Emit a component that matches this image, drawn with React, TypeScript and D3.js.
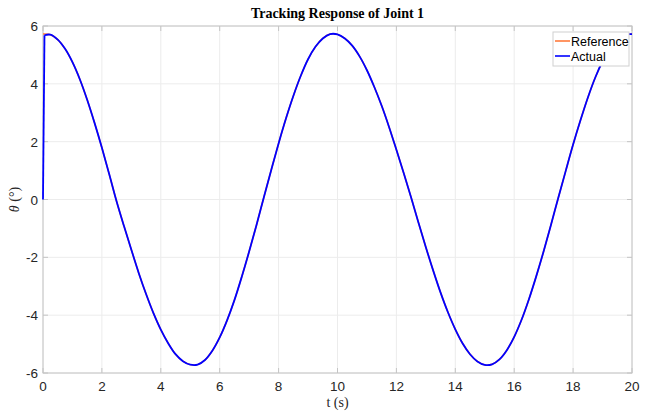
import React from "react";
import * as d3 from "d3";

const timeRef: number[] = [
  0, 0.25, 0.5, 0.75, 1, 1.25, 1.5, 1.75, 2, 2.25, 2.5, 2.75, 3, 3.25, 3.5, 3.75, 4, 4.25, 4.5, 4.75,
  5, 5.25, 5.5, 5.75, 6, 6.25, 6.5, 6.75, 7, 7.25, 7.5, 7.75, 8, 8.25, 8.5, 8.75, 9, 9.25, 9.5, 9.75,
  10, 10.25, 10.5, 10.75, 11, 11.25, 11.5, 11.75, 12, 12.25, 12.5, 12.75, 13, 13.25, 13.5, 13.75, 14, 14.25, 14.5, 14.75,
  15, 15.25, 15.5, 15.75, 16, 16.25, 16.5, 16.75, 17, 17.25, 17.5, 17.75, 18, 18.25, 18.5, 18.75, 19, 19.25, 19.5, 19.75, 20,
];
const reference: number[] = [
  5.72, 5.7, 5.53, 5.21, 4.75, 4.16, 3.45, 2.65, 1.79, 0.87, -0.07, -0.92, -1.74, -2.54, -3.27, -3.93, -4.5, -4.97, -5.35, -5.59,
  -5.71, -5.71, -5.55, -5.23, -4.77, -4.18, -3.48, -2.67, -1.8, -0.88, 0.08, 1.02, 1.94, 2.8, 3.58, 4.27, 4.85, 5.28, 5.57, 5.72,
  5.71, 5.57, 5.32, 4.95, 4.47, 3.89, 3.24, 2.51, 1.72, 0.91, 0.07, -0.8, -1.65, -2.46, -3.22, -3.9, -4.49, -4.98, -5.35, -5.6,
  -5.72, -5.7, -5.53, -5.21, -4.75, -4.16, -3.45, -2.65, -1.79, -0.87, 0.07, 0.99, 1.9, 2.74, 3.52, 4.21, 4.78, 5.23, 5.54, 5.7, 5.72,
];
const timeAct: number[] = [
  0, 0.05, 0.25, 0.5, 0.75, 1, 1.25, 1.5, 1.75, 2, 2.25, 2.5, 2.75, 3, 3.25, 3.5, 3.75, 4, 4.25, 4.5, 4.75,
  5, 5.25, 5.5, 5.75, 6, 6.25, 6.5, 6.75, 7, 7.25, 7.5, 7.75, 8, 8.25, 8.5, 8.75, 9, 9.25, 9.5, 9.75,
  10, 10.25, 10.5, 10.75, 11, 11.25, 11.5, 11.75, 12, 12.25, 12.5, 12.75, 13, 13.25, 13.5, 13.75, 14, 14.25, 14.5, 14.75,
  15, 15.25, 15.5, 15.75, 16, 16.25, 16.5, 16.75, 17, 17.25, 17.5, 17.75, 18, 18.25, 18.5, 18.75, 19, 19.25, 19.5, 19.75, 20,
];
const actual: number[] = [
  0.0, 5.68, 5.7, 5.53, 5.21, 4.75, 4.16, 3.45, 2.65, 1.79, 0.87, -0.07, -0.92, -1.74, -2.54, -3.27, -3.93, -4.5, -4.97, -5.35, -5.59,
  -5.71, -5.71, -5.55, -5.23, -4.77, -4.18, -3.48, -2.67, -1.8, -0.88, 0.08, 1.02, 1.94, 2.8, 3.58, 4.27, 4.85, 5.28, 5.57, 5.72,
  5.71, 5.57, 5.32, 4.95, 4.47, 3.89, 3.24, 2.51, 1.72, 0.91, 0.07, -0.8, -1.65, -2.46, -3.22, -3.9, -4.49, -4.98, -5.35, -5.6,
  -5.72, -5.7, -5.53, -5.21, -4.75, -4.16, -3.45, -2.65, -1.79, -0.87, 0.07, 0.99, 1.9, 2.74, 3.52, 4.21, 4.78, 5.23, 5.54, 5.7, 5.72,
];
const xTicks: number[] = [0, 2, 4, 6, 8, 10, 12, 14, 16, 18, 20];
const yTicks: number[] = [-6, -4, -2, 0, 2, 4, 6];
const seriesNames: string[] = ["Reference", "Actual"];

const W = 650;
const H = 412;
const M = { left: 43, right: 18, top: 26, bottom: 39 };
const REF_COLOR = "#ff7a3c";
const ACT_COLOR = "#0000ff";
const AX_COLOR = "#c4c4c4";
const TXT = "#262626";
const SANS = "'Liberation Sans', Arial, Helvetica, sans-serif";
const SERIF = "'Liberation Serif', 'Times New Roman', serif";

export default function App() {
  const x = d3.scaleLinear().domain([0, 20]).range([M.left, W - M.right]);
  const y = d3.scaleLinear().domain([-6, 6]).range([H - M.bottom, M.top]);
  const smooth = d3
    .line<[number, number]>()
    .x((d) => x(d[0]))
    .y((d) => y(d[1]))
    .curve(d3.curveCatmullRom.alpha(0.5));
  const straight = d3
    .line<[number, number]>()
    .x((d) => x(d[0]))
    .y((d) => y(d[1]));
  const refPts = timeRef.map((t, i) => [t, reference[i]] as [number, number]);
  const actPts = timeAct.map((t, i) => [t, actual[i]] as [number, number]);
  const x0 = x(0), x1 = x(20), y0 = y(-6), y1 = y(6);
  const lx = 553, ly = 32, lw = 76, lh = 34;

  return (
    <svg width={W} height={H} style={{ position: "absolute", left: 0, top: 0, background: "#fff" }}>
      <rect x={0} y={0} width={W} height={H} fill="#fff" />
      {xTicks.map((t) => (
        <line key={"gx" + t} x1={x(t)} x2={x(t)} y1={y1} y2={y0} stroke="#ececec" strokeWidth={1} />
      ))}
      {yTicks.map((t) => (
        <line key={"gy" + t} x1={x0} x2={x1} y1={y(t)} y2={y(t)} stroke="#ececec" strokeWidth={1} />
      ))}
      <rect x={x0} y={y1} width={x1 - x0} height={y0 - y1} fill="none" stroke={AX_COLOR} strokeWidth={1} />
      {xTicks.map((t) => (
        <g key={"tx" + t}>
          <line x1={x(t)} x2={x(t)} y1={y0} y2={y0 - 5} stroke={AX_COLOR} />
          <line x1={x(t)} x2={x(t)} y1={y1} y2={y1 + 5} stroke={AX_COLOR} />
          <text x={x(t)} y={y0 + 18} textAnchor="middle" fontFamily={SANS} fontSize={13.5} fill={TXT}>
            {t}
          </text>
        </g>
      ))}
      {yTicks.map((t) => (
        <g key={"ty" + t}>
          <line x1={x0} x2={x0 + 5} y1={y(t)} y2={y(t)} stroke={AX_COLOR} />
          <line x1={x1} x2={x1 - 5} y1={y(t)} y2={y(t)} stroke={AX_COLOR} />
          <text x={x0 - 5} y={y(t) + 5} textAnchor="end" fontFamily={SANS} fontSize={13.5} fill={TXT}>
            {t}
          </text>
        </g>
      ))}
      <path d={smooth(refPts) || ""} fill="none" stroke={REF_COLOR} strokeWidth={1.5} />
      <path d={straight(actPts.slice(0, 2)) || ""} fill="none" stroke={ACT_COLOR} strokeWidth={1.8} />
      <path d={smooth(actPts.slice(1)) || ""} fill="none" stroke={ACT_COLOR} strokeWidth={1.8} />
      <text x={(x0 + x1) / 2} y={18} textAnchor="middle" fontFamily={SERIF} fontWeight="bold" fontSize={14} fill="#000">
        Tracking Response of Joint 1
      </text>
      <text x={(x0 + x1) / 2} y={407} textAnchor="middle" fontFamily={SERIF} fontSize={14} fill={TXT}>
        t (s)
      </text>
      <text
        transform={`translate(19, ${(y0 + y1) / 2}) rotate(-90)`}
        textAnchor="middle"
        fontFamily={SERIF}
        fontSize={14}
        fill={TXT}
      >
        <tspan fontStyle="italic">θ</tspan> (°)
      </text>
      <rect x={lx} y={ly} width={lw} height={lh} fill="#fff" stroke="#d0d0d0" strokeWidth={1} />
      {seriesNames.map((n, i) => (
        <g key={n}>
          <line
            x1={lx + 2}
            x2={lx + 17}
            y1={ly + 9 + i * 15}
            y2={ly + 9 + i * 15}
            stroke={i === 0 ? REF_COLOR : ACT_COLOR}
            strokeWidth={1.6}
          />
          <text x={lx + 18} y={ly + 13.5 + i * 15} fontFamily={SANS} fontSize={12.5} fill="#000">
            {n}
          </text>
        </g>
      ))}
    </svg>
  );
}
